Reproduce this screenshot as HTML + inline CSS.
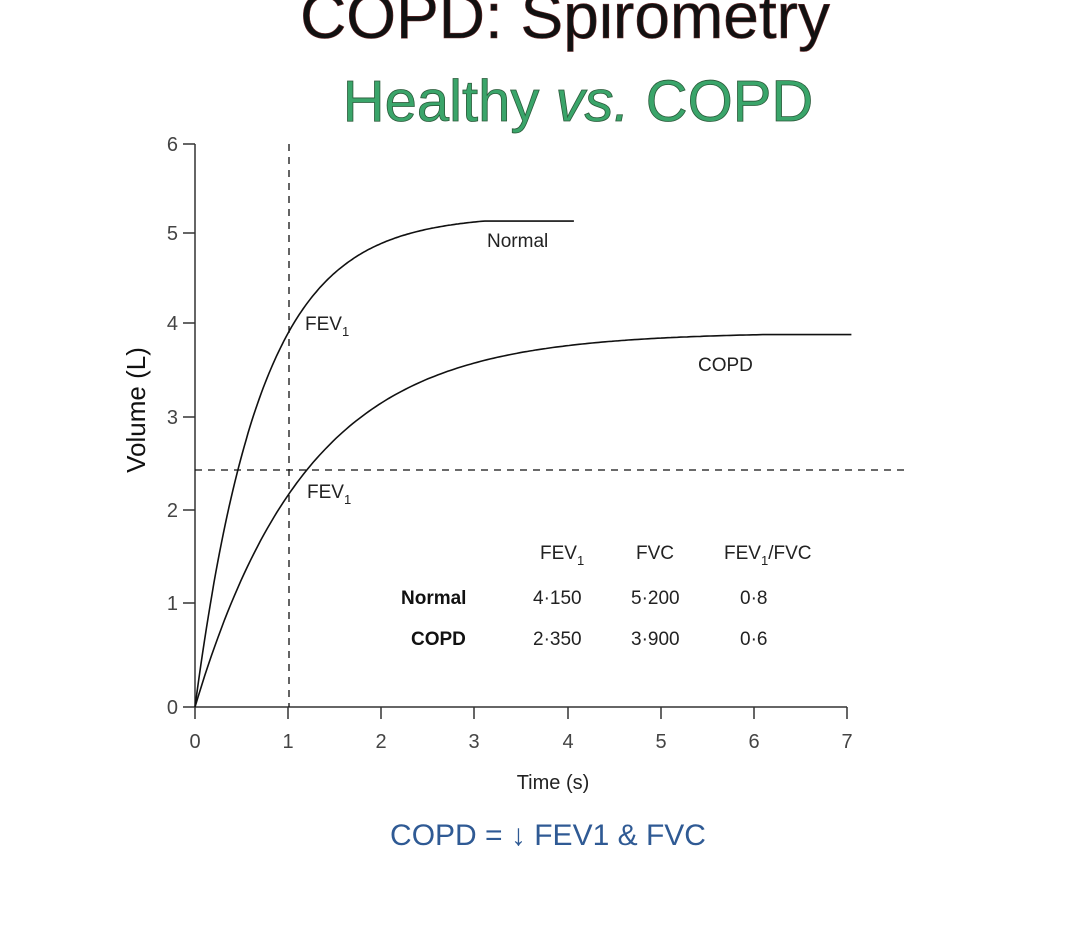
<!DOCTYPE html>
<html><head><meta charset="utf-8"><style>
body{margin:0;width:1084px;height:934px;background:#fff;overflow:hidden;font-family:"Liberation Sans",sans-serif}
</style></head><body>
<svg width="1084" height="934" viewBox="0 0 1084 934" xmlns="http://www.w3.org/2000/svg" font-family="Liberation Sans, sans-serif">
<text x="565" y="38" text-anchor="middle" font-size="64" fill="#111" stroke="#6a2a2a" stroke-width="0.6">COPD: Spirometry</text>
<text x="578" y="121" text-anchor="middle" font-size="58" fill="#3aa56a" stroke="#2b5a3a" stroke-width="0.8">Healthy <tspan font-style="italic">vs.</tspan> COPD</text>
<g stroke="#333" stroke-width="1.5" fill="none">
<line x1="195" y1="144" x2="195" y2="707"/>
<line x1="195" y1="707" x2="847" y2="707"/>
<line x1="183" y1="144" x2="195" y2="144"/><line x1="183" y1="233" x2="195" y2="233"/><line x1="183" y1="323" x2="195" y2="323"/><line x1="183" y1="417" x2="195" y2="417"/><line x1="183" y1="510" x2="195" y2="510"/><line x1="183" y1="603" x2="195" y2="603"/><line x1="183" y1="707" x2="195" y2="707"/>
<line x1="195" y1="707" x2="195" y2="719"/><line x1="288" y1="707" x2="288" y2="719"/><line x1="381" y1="707" x2="381" y2="719"/><line x1="474" y1="707" x2="474" y2="719"/><line x1="568" y1="707" x2="568" y2="719"/><line x1="661" y1="707" x2="661" y2="719"/><line x1="754" y1="707" x2="754" y2="719"/><line x1="847" y1="707" x2="847" y2="719"/>
</g>
<g stroke="#111" stroke-width="1.3" stroke-dasharray="7,6">
<line x1="289" y1="144" x2="289" y2="707"/>
<line x1="195" y1="470" x2="905" y2="470"/>
</g>
<g font-size="20" fill="#444" text-anchor="end">
<text x="178" y="151">6</text><text x="178" y="240">5</text><text x="178" y="330">4</text><text x="178" y="424">3</text><text x="178" y="517">2</text><text x="178" y="610">1</text><text x="178" y="714">0</text>
</g>
<g font-size="20" fill="#444" text-anchor="middle">
<text x="195" y="748">0</text><text x="288" y="748">1</text><text x="381" y="748">2</text><text x="474" y="748">3</text><text x="568" y="748">4</text><text x="661" y="748">5</text><text x="754" y="748">6</text><text x="847" y="748">7</text>
</g>
<text x="553" y="789" font-size="20" fill="#222" text-anchor="middle">Time (s)</text>
<text transform="translate(145,410) rotate(-90)" font-size="26" fill="#111" text-anchor="middle">Volume (L)</text>
<path id="n" fill="none" stroke="#111" stroke-width="1.6"/>
<path id="c" fill="none" stroke="#111" stroke-width="1.6"/>
<g font-size="19" fill="#222">
<text x="487" y="247">Normal</text>
<text x="698" y="371">COPD</text>
<text x="305" y="330">FEV<tspan font-size="13" dy="6">1</tspan></text>
<text x="307" y="498">FEV<tspan font-size="13" dy="6">1</tspan></text>
<text x="540" y="559">FEV<tspan font-size="13" dy="6">1</tspan></text>
<text x="636" y="559">FVC</text>
<text x="724" y="559">FEV<tspan font-size="13" dy="6">1</tspan><tspan dy="-6">/FVC</tspan></text>
<text x="533" y="604">4·150</text><text x="631" y="604">5·200</text><text x="740" y="604">0·8</text>
<text x="533" y="645">2·350</text><text x="631" y="645">3·900</text><text x="740" y="645">0·6</text>
<text x="401" y="604" font-weight="bold" fill="#111">Normal</text>
<text x="411" y="645" font-weight="bold" fill="#111">COPD</text>
</g>
<text x="548" y="845" font-size="30" fill="#2f5a94" text-anchor="middle">COPD = ↓ FEV1 &amp; FVC</text>
</svg>
<script>
function mk(id,V,tau,tend,tflat){var d="";for(var i=0;i<=200;i++){var t=tend*i/200;var v=t>=tflat?V:V*(1-Math.exp(-t/tau))/(1-Math.exp(-tflat/tau));var x=195+t*93.1,y=707-v*93.8;d+=(i?"L":"M")+x.toFixed(1)+","+y.toFixed(1);}document.getElementById(id).setAttribute("d",d);}
mk("n",5.18,0.7,4.07,3.1);
mk("c",3.97,1.2,7.05,6.1);
</script>
</body></html>
